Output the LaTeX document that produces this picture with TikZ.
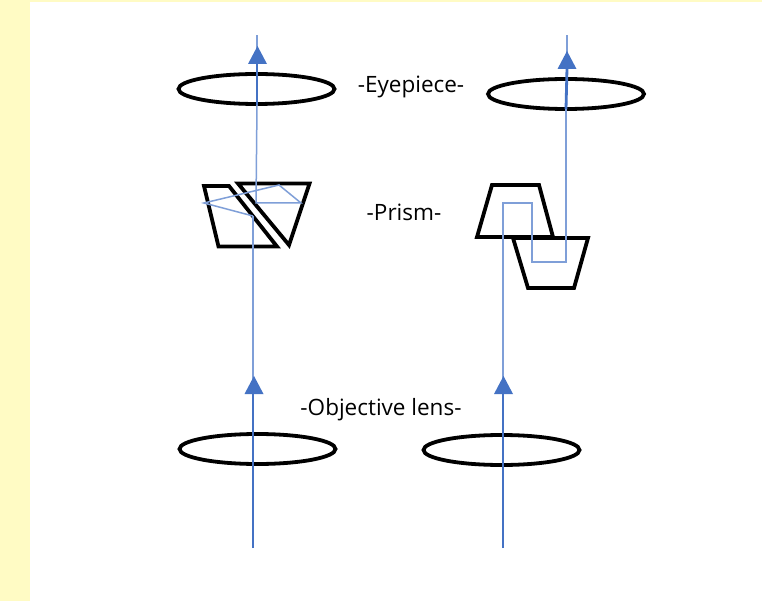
\documentclass[tikz,border=0pt]{standalone}
\usepackage{fontspec}
\setmainfont{Open Sans}
\usetikzlibrary{shapes.geometric}
\definecolor{pad}{HTML}{FFFBC4}
\definecolor{ray}{HTML}{4472C4}
\definecolor{rayt}{HTML}{7F9FD8}
\tikzset{
  lens/.style={draw=black,line width=3.8pt,ellipse,minimum width=156pt,minimum height=30pt,inner sep=0pt},
  prism/.style={draw=black,line width=3.8pt,line join=miter},
  thinray/.style={draw=rayt,line width=1.5pt},
  thickray/.style={draw=ray,line width=2.8pt},
  head/.style={fill=ray,draw=none},
  lbl/.style={font=\fontsize{22.5pt}{26pt}\selectfont,text=black,inner sep=0pt}
}
\begin{document}
\begin{tikzpicture}[x=1pt,y=-1pt]
\useasboundingbox (0,0) rectangle (762,601);
\fill[pad] (0,0) rectangle (762,601);
\fill[white] (30,2) rectangle (762,601);
% lenses
\node[lens] (eyeL) at (256.5,89) {};
\node[lens] (eyeR) at (566,94) {};
\node[lens] (objL) at (257.5,449) {};
\node[lens] (objR) at (501.5,450) {};
% labels
\node[lbl] (eyeT) at (411,87) {-Eyepiece-};
\node[lbl] (priT) at (404,212) {-Prism-};
\node[lbl] (objT) at (381,410) {-Objective lens-};
% prisms
\draw[prism] (204,186) -- (229,186) -- (277,246.5) -- (218.5,246.5) -- cycle;
\draw[prism] (238,183.5) -- (309.5,183.5) -- (289,245) -- cycle;
\draw[prism] (492,185) -- (539,185) -- (553,237) -- (477,237) -- cycle;
\draw[prism] (513,238) -- (588,238) -- (574,288) -- (528,288) -- cycle;
% ray coordinates
\coordinate (a0) at (253,548);
\coordinate (a1) at (253,394);
\coordinate (a2) at (253,216);
\coordinate (a3) at (204,203);
\coordinate (a4) at (279,185);
\coordinate (a5) at (301,203);
\coordinate (a6) at (256,203);
\coordinate (a7) at (257,105);
\coordinate (a8) at (257,35);
\coordinate (b0) at (503,548);
\coordinate (b1) at (503,394);
\coordinate (b2) at (503,203);
\coordinate (b3) at (532,203);
\coordinate (b4) at (532,262);
\coordinate (b5) at (566,262);
\coordinate (b6) at (566,109);
\coordinate (b7) at (567,68);
\coordinate (b8) at (567,35);
% rays
\draw[thinray,line join=miter] (a2) -- (a3) -- (a4) -- (a5) -- (a6) -- (a7);
\draw[thinray] (a1) -- (a2);
\draw[thinray] (a7) -- (a8);
\draw[thickray] (a7) -- (257,60);
\draw[thickray] (a0) -- (a1);
\draw[thinray] (b1) -- (b2) -- (b3) -- (b4) -- (b5) -- (b6);
\draw[thickray] (b0) -- (b1);
\draw[thickray] (b6) -- (b7);
\draw[thinray] (b7) -- (b8);
% arrowheads
\fill[head] (257.5,46) -- (267,64) -- (248,64) -- cycle;
\fill[head] (567,51) -- (576.5,69) -- (557.5,69) -- cycle;
\fill[head] (254,376) -- (263.5,394) -- (244.5,394) -- cycle;
\fill[head] (503.5,376) -- (513,394) -- (494,394) -- cycle;
\end{tikzpicture}
\end{document}
